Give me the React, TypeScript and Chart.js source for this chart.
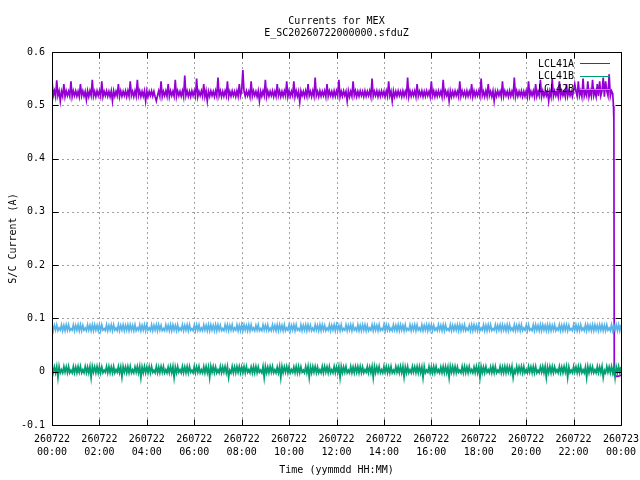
import { useEffect, useRef } from "react";
import { Chart, registerables } from "chart.js";
import type { Plugin } from "chart.js";

Chart.register(...registerables);

const FONT = "DejaVu Sans Mono";
const STEP_MIN = 3; // samples every 3 minutes from 00:00

const titleLines = ["Currents for MEX", "E_SC20260722000000.sfduZ"];
const xTitle = "Time (yymmdd HH:MM)";
const yTitle = "S/C Current (A)";

const seriesNames = ["LCL41A", "LCL41B", "LCL42B"];
const seriesColors = ["#9400d3", "#009e73", "#56b4e9"];

// currents in mA, one row per hour
const lcl41a = [
  548, 517, 527, 516, 547, 518, 527, 508, 526, 517, 540, 516, 527, 518, 526, 517, 545, 516, 527, 518,
  527, 517, 526, 516, 540, 518, 527, 517, 526, 510, 527, 516, 527, 518, 548, 517, 526, 516, 527, 518,
  527, 517, 545, 516, 526, 518, 527, 517, 526, 516, 527, 508, 527, 517, 526, 518, 540, 516, 527, 517,
  526, 518, 527, 516, 527, 517, 545, 518, 526, 516, 527, 517, 548, 518, 527, 516, 526, 517, 527, 508,
  527, 516, 526, 518, 527, 517, 526, 516, 508, 518, 527, 517, 545, 516, 526, 518, 527, 517, 540, 516,
  527, 518, 526, 517, 548, 516, 527, 518, 526, 517, 527, 516, 556, 518, 527, 517, 526, 516, 527, 518,
  527, 517, 550, 516, 526, 518, 527, 517, 540, 516, 527, 508, 526, 517, 527, 518, 526, 516, 527, 517,
  552, 518, 527, 516, 526, 517, 527, 518, 545, 516, 526, 517, 527, 518, 526, 516, 527, 517, 540, 518,
  527, 566, 526, 517, 527, 518, 526, 516, 545, 517, 527, 518, 526, 516, 527, 508, 526, 517, 527, 518,
  548, 516, 527, 517, 526, 518, 527, 516, 526, 517, 540, 518, 527, 516, 526, 517, 527, 518, 545, 516,
  527, 517, 526, 518, 545, 516, 527, 517, 526, 506, 527, 518, 526, 516, 527, 517, 540, 518, 526, 516,
  527, 517, 552, 518, 526, 516, 527, 517, 526, 518, 527, 516, 540, 517, 527, 518, 526, 516, 527, 517,
  527, 518, 548, 516, 526, 517, 527, 518, 526, 508, 527, 516, 526, 517, 545, 518, 527, 516, 526, 517,
  527, 518, 526, 516, 527, 517, 526, 518, 527, 516, 550, 517, 526, 518, 527, 516, 526, 517, 527, 518,
  526, 516, 527, 517, 545, 518, 526, 508, 527, 516, 526, 517, 527, 518, 526, 516, 527, 517, 526, 518,
  552, 516, 527, 517, 526, 518, 527, 516, 540, 517, 526, 518, 527, 516, 526, 517, 527, 518, 526, 516,
  545, 518, 527, 516, 526, 517, 527, 518, 526, 516, 548, 517, 527, 518, 526, 508, 527, 516, 526, 517,
  527, 518, 526, 516, 545, 517, 527, 518, 526, 516, 527, 517, 526, 518, 540, 516, 527, 517, 526, 518,
  527, 517, 550, 518, 526, 516, 527, 517, 540, 518, 526, 516, 527, 508, 526, 517, 527, 518, 526, 516,
  545, 517, 527, 518, 526, 516, 527, 517, 526, 518, 552, 516, 527, 517, 526, 518, 527, 516, 526, 517,
  527, 516, 545, 517, 526, 518, 527, 516, 540, 517, 526, 518, 548, 516, 527, 517, 526, 518, 527, 508,
  526, 516, 550, 517, 527, 518, 526, 516, 545, 517, 527, 518, 526, 516, 540, 517, 527, 518, 526, 516,
  527, 540, 526, 517, 545, 518, 527, 516, 550, 517, 526, 518, 545, 516, 527, 517, 548, 518, 527, 516,
  540, 517, 545, 518, 527, 552, 516, 545, 527, 518, 558, 517, 527, 522,
];
// after 23:39 the line collapses
const lcl41aTailMin = [1421, 1422, 1423, 1430, 1440];
const lcl41aTail = [498, 468, -6, -9, -7];

const lcl41b = [
  10, -2, 9, -2, 10, -11, 10, -2, 4, -2, 10, -1, 9, -2, 10, -2, 3, -2, 10, -2,
  9, -2, 10, -1, 10, -2, 4, -2, 10, -2, 9, -2, 10, -11, 10, -1, 9, -2, 10, -2,
  10, -2, 9, -2, 3, -1, 10, -2, 10, -2, 9, -2, 10, -2, 4, -1, 10, -2, 9, -10,
  10, -1, 9, -2, 10, -2, 10, -2, 4, -2, 9, -1, 10, -2, 10, -11, 9, -2, 10, -2,
  9, -2, 10, -2, 10, -1, 3, -2, 10, -2, 9, -2, 10, -1, 10, -2, 4, -2, 9, -2,
  10, -2, 10, -11, 9, -2, 10, -1, 4, -2, 10, -2, 9, -2, 10, -2, 10, -1, 3, -2,
  10, -2, 9, -1, 10, -2, 4, -2, 10, -2, 10, -2, 9, -11, 10, -1, 10, -2, 9, -2,
  4, -2, 10, -2, 9, -1, 10, -2, 10, -11, 3, -2, 10, -2, 9, -2, 10, -1, 10, -2,
  9, -2, 10, -2, 10, -1, 4, -2, 9, -2, 10, -2, 10, -2, 9, -1, 3, -2, 10, -11,
  10, -2, 9, -2, 10, -1, 10, -2, 4, -2, 9, -2, 10, -11, 10, -2, 9, -1, 10, -2,
  10, -2, 4, -1, 9, -2, 10, -2, 10, -2, 9, -1, 3, -2, 10, -2, 10, -11, 9, -2,
  10, -1, 10, -2, 9, -2, 4, -2, 10, -2, 10, -1, 9, -2, 10, -2, 4, -2, 10, -2,
  9, -2, 10, -11, 10, -2, 9, -1, 10, -2, 3, -2, 10, -2, 9, -2, 10, -1, 10, -2,
  10, -2, 9, -2, 4, -1, 10, -2, 9, -2, 10, -11, 10, -2, 9, -1, 10, -2, 4, -2,
  10, -1, 10, -2, 9, -2, 10, -2, 3, -2, 10, -1, 9, -2, 10, -2, 10, -10, 9, -2,
  10, -2, 4, -2, 10, -1, 9, -2, 10, -2, 10, -2, 9, -11, 10, -2, 3, -1, 10, -2,
  9, -2, 10, -2, 10, -1, 4, -2, 9, -2, 10, -2, 10, -2, 9, -11, 10, -1, 10, -2,
  10, -2, 9, -1, 3, -2, 10, -2, 10, -2, 9, -2, 10, -1, 4, -2, 9, -2, 10, -2,
  10, -11, 10, -2, 9, -2, 10, -1, 4, -2, 9, -2, 10, -2, 10, -2, 3, -1, 10, -2,
  9, -2, 10, -2, 10, -1, 9, -2, 10, -11, 4, -2, 10, -2, 9, -1, 10, -2, 10, -2,
  4, -2, 10, -1, 9, -2, 10, -2, 10, -2, 3, -2, 9, -1, 10, -2, 10, -11, 9, -2,
  10, -2, 10, -2, 9, -1, 4, -2, 10, -2, 9, -2, 10, -1, 10, -11, 9, -2, 3, -2,
  10, -1, 9, -2, 10, -2, 10, -2, 4, -2, 9, -11, 10, -2, 10, -1, 9, -2, 4, -2,
  10, -2, 9, -2, 10, -11, 3, -2, 10, -1, 9, -2, 10, -2, 10, -11, 9, -2, 10, -2,
  9,
];

const lcl42b = [
  88, 77, 87, 78, 88, 77, 82, 78, 88, 77, 87, 77, 88, 78, 88, 77, 81, 78, 88, 77,
  87, 78, 88, 77, 88, 77, 87, 78, 82, 77, 88, 78, 87, 77, 88, 77, 88, 78, 87, 77,
  88, 77, 88, 78, 81, 77, 88, 77, 87, 78, 88, 77, 88, 78, 82, 77, 88, 77, 87, 78,
  88, 77, 87, 78, 88, 77, 88, 78, 87, 77, 88, 77, 82, 78, 88, 77, 87, 78, 88, 77,
  88, 78, 82, 77, 88, 77, 87, 78, 88, 77, 88, 78, 87, 77, 81, 77, 88, 78, 87, 77,
  88, 77, 88, 78, 87, 77, 88, 77, 82, 78, 88, 77, 87, 78, 88, 77, 88, 78, 81, 77,
  87, 77, 88, 78, 88, 77, 82, 77, 88, 78, 87, 77, 88, 77, 88, 78, 87, 77, 88, 77,
  88, 78, 87, 77, 81, 77, 88, 78, 88, 77, 87, 78, 88, 77, 82, 78, 88, 77, 87, 77,
  88, 77, 88, 78, 87, 77, 88, 77, 88, 78, 82, 77, 87, 78, 88, 77, 81, 77, 88, 78,
  87, 78, 88, 77, 82, 77, 88, 78, 87, 77, 88, 77, 88, 78, 87, 77, 88, 77, 82, 78,
  88, 77, 87, 78, 88, 77, 88, 78, 81, 77, 88, 77, 87, 78, 88, 77, 88, 78, 87, 77,
  82, 77, 88, 78, 87, 77, 88, 77, 88, 78, 87, 77, 82, 78, 88, 77, 87, 78, 88, 77,
  88, 78, 87, 77, 88, 77, 81, 78, 88, 77, 87, 78, 88, 77, 88, 78, 82, 77, 88, 77,
  87, 77, 88, 78, 88, 77, 87, 77, 82, 78, 88, 77, 88, 78, 87, 77, 88, 77, 81, 78,
  88, 77, 88, 78, 87, 77, 82, 77, 88, 78, 87, 77, 88, 77, 88, 78, 87, 77, 88, 77,
  81, 78, 88, 77, 87, 78, 88, 77, 88, 78, 82, 77, 88, 77, 87, 78, 88, 77, 88, 78,
  88, 77, 87, 78, 82, 77, 88, 78, 87, 77, 88, 77, 88, 78, 81, 77, 88, 77, 87, 78,
  87, 78, 88, 77, 88, 77, 87, 78, 88, 77, 82, 78, 87, 77, 88, 77, 88, 78, 87, 77,
  88, 77, 82, 78, 88, 77, 87, 77, 88, 78, 88, 77, 81, 78, 88, 77, 87, 78, 88, 77,
  88, 78, 87, 77, 88, 77, 88, 78, 82, 77, 88, 77, 87, 78, 88, 77, 88, 77, 82, 78,
  87, 77, 88, 78, 81, 77, 88, 77, 88, 78, 87, 77, 88, 77, 88, 78, 87, 77, 88, 77,
  88, 77, 87, 78, 88, 77, 82, 78, 88, 77, 87, 77, 88, 78, 88, 77, 87, 78, 81, 77,
  88, 78, 88, 77, 87, 77, 88, 78, 82, 77, 88, 77, 88, 78, 87, 77, 88, 77, 88, 78,
  87, 77, 88, 78, 88, 77, 87, 77, 88, 78, 82, 77, 88, 77, 87, 78, 88, 77, 88, 77,
  88,
];

const xTickDays = ["260722", "260722", "260722", "260722", "260722", "260722", "260722",
  "260722", "260722", "260722", "260722", "260722", "260723"];
const xTickTimes = ["00:00", "02:00", "04:00", "06:00", "08:00", "10:00", "12:00",
  "14:00", "16:00", "18:00", "20:00", "22:00", "00:00"];

const toPoints = (values: number[]) =>
  values.map((v, i) => ({ x: i * STEP_MIN, y: v / 1000 }));

const gnuplotFrame: Plugin<"line"> = {
  id: "gnuplotFrame",
  beforeDatasetsDraw(chart) {
    const { ctx, chartArea: a, scales } = chart;
    ctx.save();
    ctx.strokeStyle = "#a0a0a0";
    ctx.lineWidth = 1;
    ctx.setLineDash([2, 3]);
    ctx.beginPath();
    scales.x.ticks.forEach((t) => {
      const px = Math.round(scales.x.getPixelForValue(t.value)) + 0.5;
      ctx.moveTo(px, a.top);
      ctx.lineTo(px, a.bottom);
    });
    scales.y.ticks.forEach((t) => {
      const py = Math.round(scales.y.getPixelForValue(t.value)) + 0.5;
      ctx.moveTo(a.left, py);
      ctx.lineTo(a.right, py);
    });
    ctx.stroke();
    ctx.restore();
  },
  afterDatasetsDraw(chart) {
    const { ctx, chartArea: a, scales } = chart;
    const l = Math.round(a.left) + 0.5;
    const r = Math.round(a.right) + 0.5;
    const t = Math.round(a.top) + 0.5;
    const b = Math.round(a.bottom) + 0.5;
    ctx.save();
    ctx.strokeStyle = "#000";
    ctx.lineWidth = 1;
    ctx.beginPath();
    ctx.rect(l, t, r - l, b - t);
    scales.x.ticks.forEach((tk) => {
      const px = Math.round(scales.x.getPixelForValue(tk.value)) + 0.5;
      ctx.moveTo(px, b);
      ctx.lineTo(px, b - 6);
      ctx.moveTo(px, t);
      ctx.lineTo(px, t + 6);
    });
    scales.y.ticks.forEach((tk) => {
      const py = Math.round(scales.y.getPixelForValue(tk.value)) + 0.5;
      ctx.moveTo(l, py);
      ctx.lineTo(l + 6, py);
      ctx.moveTo(r, py);
      ctx.lineTo(r - 6, py);
    });
    ctx.stroke();

    // legend, gnuplot style: text then line sample
    ctx.font = `10px "${FONT}"`;
    ctx.textAlign = "right";
    ctx.textBaseline = "middle";
    seriesNames.forEach((name, i) => {
      const y = 64 + i * 12.8;
      ctx.fillStyle = "#000";
      ctx.fillText(name, 574, y);
      ctx.strokeStyle = seriesColors[i];
      ctx.beginPath();
      ctx.moveTo(580, Math.round(y) - 0.5);
      ctx.lineTo(610, Math.round(y) - 0.5);
      ctx.stroke();
    });

    // titles
    const cx = (a.left + a.right) / 2;
    ctx.textAlign = "center";
    ctx.fillStyle = "#000";
    ctx.fillText(titleLines[0], cx, 21);
    ctx.fillText(titleLines[1], cx, 33.5);
    ctx.fillText(xTitle, cx, 470);
    ctx.translate(13, (a.top + a.bottom) / 2);
    ctx.rotate(-Math.PI / 2);
    ctx.fillText(yTitle, 0, 0);
    ctx.restore();
  },
};

export default function App() {
  const canvasRef = useRef<HTMLCanvasElement | null>(null);
  const chartRef = useRef<Chart | null>(null);

  useEffect(() => {
    if (!canvasRef.current) return;
    if (chartRef.current) chartRef.current.destroy();

    const purple = toPoints(lcl41a).concat(
      lcl41aTailMin.map((m, i) => ({ x: m, y: lcl41aTail[i] / 1000 }))
    );

    chartRef.current = new Chart(canvasRef.current, {
      type: "line",
      data: {
        datasets: [
          { label: seriesNames[0], data: purple, borderColor: seriesColors[0], order: 3 },
          { label: seriesNames[1], data: toPoints(lcl41b), borderColor: seriesColors[1], order: 2 },
          { label: seriesNames[2], data: toPoints(lcl42b), borderColor: seriesColors[2], order: 1 },
        ],
      },
      options: {
        animation: false,
        responsive: false,
        devicePixelRatio: 1,
        layout: { padding: { top: 52, right: 19, left: 0, bottom: 0 } },
        elements: {
          point: { radius: 0 },
          line: { tension: 0, borderWidth: 1.7 },
        },
        plugins: {
          legend: { display: false },
          tooltip: { enabled: false },
          title: { display: false },
        },
        scales: {
          x: {
            type: "linear",
            min: 0,
            max: 1440,
            grid: { display: false, drawTicks: false },
            border: { display: false },
            ticks: {
              stepSize: 120,
              autoSkip: false,
              maxRotation: 0,
              padding: 8,
              color: "#000",
              font: { family: FONT, size: 10, lineHeight: 1.3 },
              callback: (v) => {
                const i = Math.round(Number(v) / 120);
                return [xTickDays[i], xTickTimes[i]];
              },
            },
            afterFit: (s) => {
              s.height = 55;
              s.paddingLeft = 0;
              s.paddingRight = 0;
            },
          },
          y: {
            min: -0.1,
            max: 0.6,
            grid: { display: false, drawTicks: false },
            border: { display: false },
            ticks: {
              stepSize: 0.1,
              padding: 7,
              color: "#000",
              font: { family: FONT, size: 10 },
              callback: (v) => String(Number(Number(v).toFixed(1))),
            },
            afterFit: (s) => {
              s.width = 52;
              s.paddingTop = 0;
              s.paddingBottom = 0;
            },
          },
        },
      },
      plugins: [gnuplotFrame],
    });

    return () => {
      if (chartRef.current) {
        chartRef.current.destroy();
        chartRef.current = null;
      }
    };
  }, []);

  return (
    <div style={{ position: "fixed", left: 0, top: 0, width: 640, height: 480, background: "#fff" }}>
      <canvas ref={canvasRef} width={640} height={480}></canvas>
    </div>
  );
}
